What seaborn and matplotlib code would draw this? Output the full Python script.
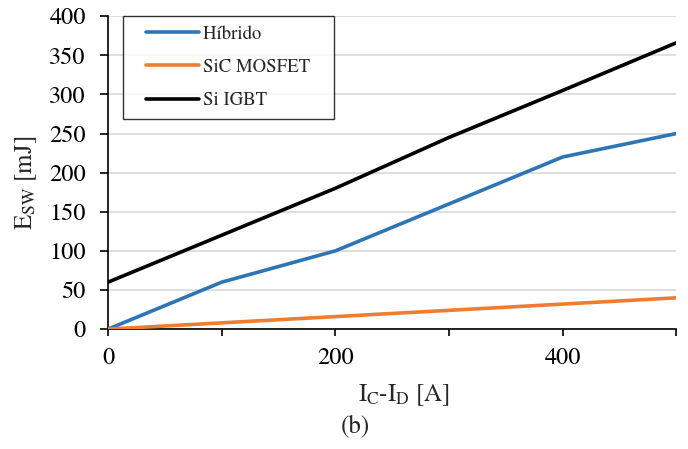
import pandas as pd
import numpy as np
import seaborn as sns
import matplotlib.pyplot as plt
from matplotlib.lines import Line2D
from matplotlib.legend_handler import HandlerLine2D

corriente = [0, 100, 200, 300, 400, 500]
hibrido = [0, 60, 100, 160, 220, 250]
sic_mosfet = [0, 8, 16, 24, 32, 40]
si_igbt = [60, 120, 180, 245, 305, 366]
series = ['Híbrido', 'SiC MOSFET', 'Si IGBT']
colores = ['#2E75B6', '#ED7D31', '#000000']
xtick_labels = ['0', '', '200', '', '400', '']

data = pd.DataFrame({
    'I': corriente * 3,
    'E': hibrido + sic_mosfet + si_igbt,
    'serie': np.repeat(series, len(corriente)),
})

sns.set_style('white')
plt.rcParams['font.family'] = ['TeX Gyre Termes', 'Liberation Serif', 'DejaVu Serif']
plt.rcParams['mathtext.fontset'] = 'custom'
plt.rcParams['mathtext.rm'] = 'TeX Gyre Termes'
plt.rcParams['mathtext.it'] = 'TeX Gyre Termes:italic'

fig = plt.figure(figsize=(6.88, 4.49), dpi=100)
ax = fig.add_axes([0.157, 0.267, 0.826, 0.697])

sns.lineplot(data=data, x='I', y='E', hue='serie', hue_order=series,
             palette=colores, linewidth=2.6, ax=ax, zorder=3)

ax.set_xlim(0, 500)
ax.set_ylim(0, 400)
ax.set_xticks(corriente)
ax.set_xticklabels(xtick_labels)
ax.set_yticks(np.arange(0, 401, 50))
ax.yaxis.grid(True, color='#d9d9d9', linewidth=1.2)
ax.xaxis.grid(False)
ax.set_axisbelow(True)

for s in ['top', 'right']:
    ax.spines[s].set_visible(False)
for s in ['left', 'bottom']:
    ax.spines[s].set_color('black')
    ax.spines[s].set_linewidth(1.2)

ax.tick_params(axis='both', direction='out', bottom=True, left=True,
               width=1.2, color='black', labelsize=17.5, labelcolor='black')
ax.tick_params(axis='x', length=5, pad=8)
ax.tick_params(axis='y', length=6, pad=10)

ax.set_xlabel(r'I$_{\mathrm{C}}$-I$_{\mathrm{D}}$ [A]', fontsize=18)
ax.set_ylabel(r'E$_{\mathrm{SW}}$ [mJ]', fontsize=18)
ax.xaxis.set_label_coords(0.52, -0.17)
ax.yaxis.set_label_coords(-0.122, 0.466)

# legend box like Excel: line inset from the frame
handles, labels = ax.get_legend_handles_labels()
labels = [l + '   ' for l in labels]
leg = ax.legend(handles, labels, loc='upper left', bbox_to_anchor=(0.027, 1.0),
                fontsize=13.5, frameon=True, fancybox=False, edgecolor='black',
                handlelength=3.55, labelspacing=0.86, borderpad=0.5,
                handletextpad=0.2, borderaxespad=0,
                handler_map={Line2D: HandlerLine2D(xpad=0.73)})
leg.get_frame().set_linewidth(1.0)
for line in leg.get_lines():
    line.set_linewidth(2.6)

fig.text(0.516, 0.051, '(b)', fontsize=18, ha='center', va='center')

fig.savefig('out.png', dpi=100)
